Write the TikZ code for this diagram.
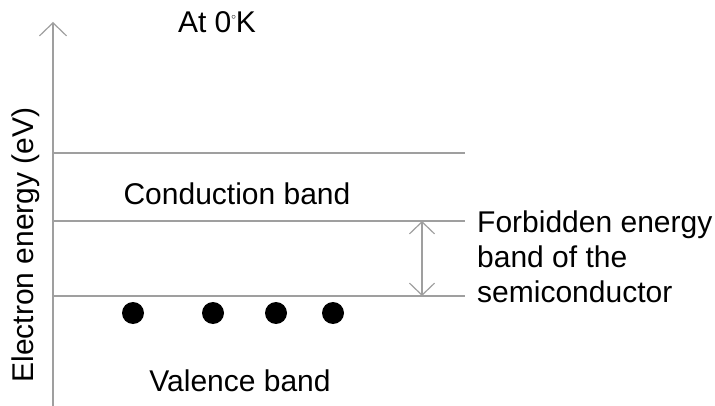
\documentclass[tikz,border=0pt]{standalone}
\usepackage{fontspec}
\setmainfont{Liberation Sans}
\usetikzlibrary{arrows.meta,positioning}

\begin{document}
\begin{tikzpicture}[
    x=1pt,y=-1pt,
    band/.style={draw=gray!75,line width=1.2pt},
    lbl/.style={font=\fontsize{30}{35}\selectfont,inner sep=0pt},
    opentip/.tip={Straight Barb[length=13pt,width=27pt,line width=1.2pt]},
    gaptip/.tip={Straight Barb[length=12pt,width=25pt,line width=1.2pt]},
    electron/.style={circle,fill=black,minimum size=22pt,inner sep=0pt}
  ]
    \useasboundingbox (0,0) rectangle (715,406);
    % energy axis
    \coordinate (axis0) at (53,406);
    \coordinate (axis1) at (53,22);
    \draw[band,-opentip] (axis0) -- (axis1);
    % band edges
    \coordinate (cbtopL) at (53,153);  \coordinate (cbtopR) at (465,153);
    \coordinate (cbbotL) at (53,221);  \coordinate (cbbotR) at (465,221);
    \coordinate (vbtopL) at (53,296);  \coordinate (vbtopR) at (465,296);
    \draw[band] (cbtopL) -- (cbtopR);
    \draw[band] (cbbotL) -- (cbbotR);
    \draw[band] (vbtopL) -- (vbtopR);
    % gap width
    \coordinate (gap0) at (422,221);
    \coordinate (gap1) at (422,296);
    \draw[band,gaptip-gaptip] (gap0) -- (gap1);
    % electrons
    \foreach \x [count=\i] in {133,213,276,333}
      \node[electron] (el\i) at (\x,313) {};
    % labels
    \node[lbl] (temp) at (217,22) {At 0\raisebox{0.8ex}{\fontsize{9}{9}\selectfont$\circ$}K};
    \node[lbl] (cband) at (237,194) {Conduction band};
    \node[lbl] (vband) at (240,381) {Valence band};
    \node[lbl,rotate=90] (yname) at (26,245) {Electron energy (eV)};
    \node[lbl,anchor=west,align=left] (gapname) at (477,257)
          {Forbidden energy\\band of the\\semiconductor};
  \end{tikzpicture}
\end{document}
